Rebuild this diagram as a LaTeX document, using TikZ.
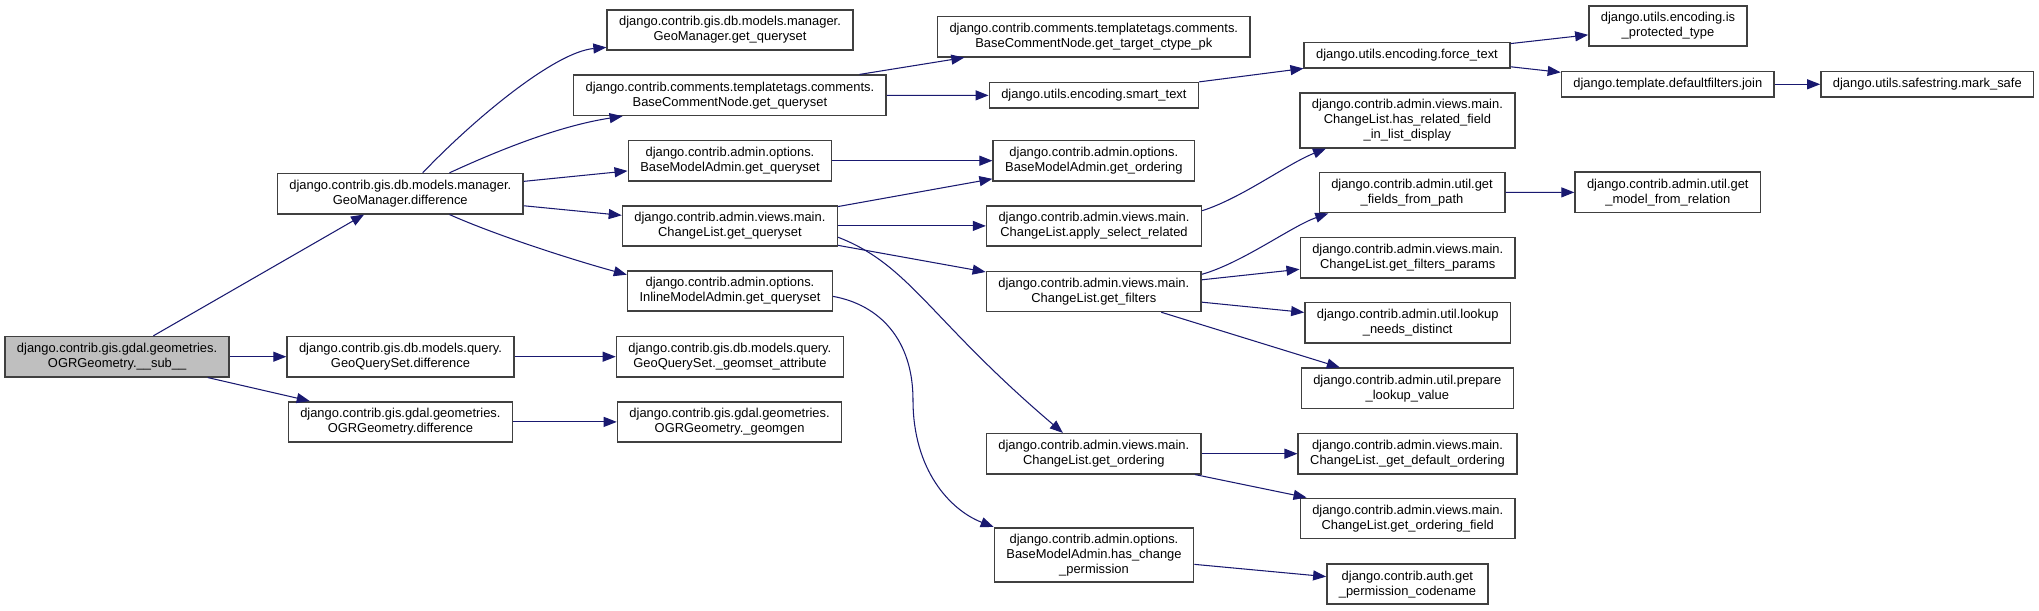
\documentclass[tikz,border=0pt]{standalone}
\usepackage{fontspec}
\setmainfont{Liberation Sans}
\usepackage{xcolor}
\usepackage{tikz}
\usetikzlibrary{arrows.meta}

\definecolor{edgeblue}{HTML}{191970}
\definecolor{curgray}{HTML}{BFBFBF}

\begin{document}
\begin{tikzpicture}[x=0.02cm, y=-0.02cm,
    fn/.style={draw=black!75, line width=0.9pt, fill=white, align=center,
               inner xsep=6.8pt, inner ysep=0pt, minimum height=22.85pt,
               font=\fontsize{7.35}{8.5}\selectfont},
    fnone/.style={fn, minimum height=14.5pt},
    fnthree/.style={fn, minimum height=31pt},
    fncur/.style={fn, fill=curgray},
    call/.style={draw=edgeblue, line width=0.6pt, -{Triangle[length=7.4pt, width=5.7pt]}}]
    \useasboundingbox (0,0) rectangle (2039,611);
    % Caller
    \node[fncur] (sub) at ( 117.1, 356.7) {django.contrib.gis.gdal.geometries.\\OGRGeometry.\_\_sub\_\_};
    % Column 2
    \node[fn] (gmdiff)  at ( 400.3, 193.7) {django.contrib.gis.db.models.manager.\\GeoManager.difference};
    \node[fn] (gqsdiff) at ( 400.5, 356.7) {django.contrib.gis.db.models.query.\\GeoQuerySet.difference};
    \node[fn] (ogrdiff) at ( 400.4, 421.9) {django.contrib.gis.gdal.geometries.\\OGRGeometry.difference};
    % Column 3
    \node[fn] (gmqs)    at ( 730.0,  30.0) {django.contrib.gis.db.models.manager.\\GeoManager.get\_queryset};
    \node[fn] (bcnqs)   at ( 729.9,  95.3) {django.contrib.comments.templatetags.comments.\\BaseCommentNode.get\_queryset};
    \node[fn] (bmaqs)   at ( 730.0, 160.7) {django.contrib.admin.options.\\BaseModelAdmin.get\_queryset};
    \node[fn] (clqs)    at ( 729.9, 225.9) {django.contrib.admin.views.main.\\ChangeList.get\_queryset};
    \node[fn] (imaqs)   at ( 730.0, 291.0) {django.contrib.admin.options.\\InlineModelAdmin.get\_queryset};
    \node[fn] (gsattr)  at ( 729.9, 356.7) {django.contrib.gis.db.models.query.\\GeoQuerySet.\_geomset\_attribute};
    \node[fn] (geomgen) at ( 729.6, 421.9) {django.contrib.gis.gdal.geometries.\\OGRGeometry.\_geomgen};
    % Column 4
    \node[fn]      (ctype)      at (1093.8,  36.7) {django.contrib.comments.templatetags.comments.\\BaseCommentNode.get\_target\_ctype\_pk};
    \node[fnone]   (smart)      at (1093.9,  95.4) {django.utils.encoding.smart\_text};
    \node[fn]      (bmaord)     at (1093.8, 160.7) {django.contrib.admin.options.\\BaseModelAdmin.get\_ordering};
    \node[fn]      (selrel)     at (1094.0, 225.9) {django.contrib.admin.views.main.\\ChangeList.apply\_select\_related};
    \node[fn]      (filters)    at (1093.8, 291.4) {django.contrib.admin.views.main.\\ChangeList.get\_filters};
    \node[fn]      (clord)      at (1093.8, 453.7) {django.contrib.admin.views.main.\\ChangeList.get\_ordering};
    \node[fnthree] (changeperm) at (1094.0, 555.0) {django.contrib.admin.options.\\BaseModelAdmin.has\_change\\\_permission};
    % Column 5
    \node[fnone]   (force)    at (1407.0,  55.2) {django.utils.encoding.force\_text};
    \node[fnthree] (hasrel)   at (1407.4, 120.5) {django.contrib.admin.views.main.\\ChangeList.has\_related\_field\\\_in\_list\_display};
    \node[fn]      (fields)   at (1412.0, 192.5) {django.contrib.admin.util.get\\\_fields\_from\_path};
    \node[fn]      (fparams)  at (1407.7, 257.7) {django.contrib.admin.views.main.\\ChangeList.get\_filters\_params};
    \node[fn]      (distinct) at (1407.7, 322.7) {django.contrib.admin.util.lookup\\\_needs\_distinct};
    \node[fn]      (prepare)  at (1407.3, 388.3) {django.contrib.admin.util.prepare\\\_lookup\_value};
    \node[fn]      (deford)   at (1407.5, 453.7) {django.contrib.admin.views.main.\\ChangeList.\_get\_default\_ordering};
    \node[fn]      (ordfield) at (1407.7, 518.4) {django.contrib.admin.views.main.\\ChangeList.get\_ordering\_field};
    \node[fn]      (codename) at (1407.4, 584.2) {django.contrib.auth.get\\\_permission\_codename};
    % Column 6 and 7
    \node[fn]    (protected) at (1668.0,  25.9) {django.utils.encoding.is\\\_protected\_type};
    \node[fnone] (join)      at (1667.8,  84.3) {django.template.defaultfilters.join};
    \node[fnone] (marksafe)  at (1927.3,  84.3) {django.utils.safestring.mark\_safe};
    \node[fn]    (modelrel)  at (1667.8, 192.3) {django.contrib.admin.util.get\\\_model\_from\_relation};
    % Calls from __sub__
    \draw[call] (sub) -- (gmdiff);
    \draw[call] (sub) -- (gqsdiff);
    \draw[call] (sub) -- (ogrdiff);
    % Calls from GeoManager.difference
    \draw[call] (gmdiff.43) .. controls (475, 118) and (555, 52) .. (gmqs.188);
    \draw[call] (gmdiff.23) .. controls (510, 145) and (565, 125) .. (bcnqs.191);
    \draw[call] (gmdiff) -- (bmaqs);
    \draw[call] (gmdiff) -- (clqs);
    \draw[call] (gmdiff.-23) .. controls (500, 237) and (580, 262) .. (imaqs.171);
    \draw[call] (gqsdiff) -- (gsattr);
    \draw[call] (ogrdiff) -- (geomgen);
    % Calls from column 3
    \draw[call] (bcnqs) -- (ctype);
    \draw[call] (bcnqs) -- (smart);
    \draw[call] (bmaqs) -- (bmaord);
    \draw[call] (clqs) -- (bmaord);
    \draw[call] (clqs) -- (selrel);
    \draw[call] (clqs) -- (filters);
    \draw[call] (clqs.-6) .. controls (910, 265) and (930, 320) .. (clord.146);
    \draw[call] (imaqs.-3) .. controls (880, 305) and (913, 340) .. (913, 400)
                           .. controls (913, 470) and (950, 510) .. (changeperm.north west);
    % Calls from column 4
    \draw[call] (smart) -- (force);
    \draw[call] (selrel.8) .. controls (1242, 198) and (1287, 164) .. (hasrel.199);
    \draw[call] (filters.9) .. controls (1242, 263) and (1292, 226) .. (fields.194);
    \draw[call] (filters) -- (fparams);
    \draw[call] (filters) -- (distinct);
    \draw[call] (filters) -- (prepare);
    \draw[call] (clord) -- (deford);
    \draw[call] (clord) -- (ordfield);
    \draw[call] (changeperm) -- (codename);
    % Calls from column 5 and 6
    \draw[call] (force) -- (protected);
    \draw[call] (force) -- (join);
    \draw[call] (join) -- (marksafe);
    \draw[call] (fields) -- (modelrel);
\end{tikzpicture}
\end{document}
